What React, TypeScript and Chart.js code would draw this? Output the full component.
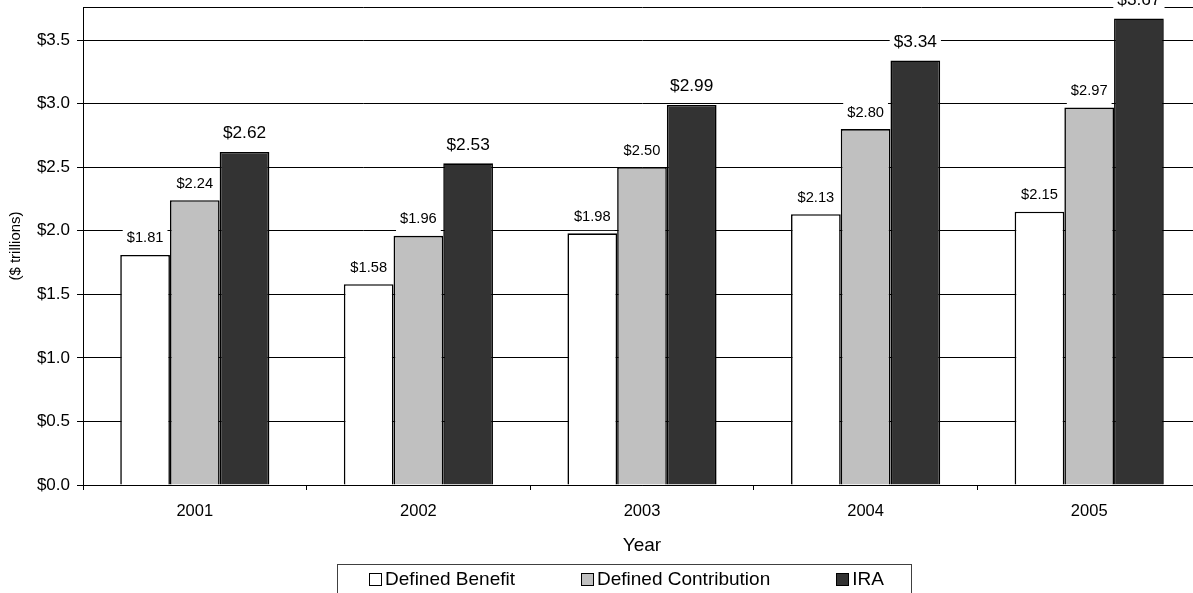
import React, { useEffect, useRef } from 'react';
import { Chart, registerables } from 'chart.js';

Chart.register(...registerables);

const years = ['2001', '2002', '2003', '2004', '2005'];
const definedBenefit = [1.81, 1.58, 1.98, 2.13, 2.15];
const definedContribution = [2.24, 1.96, 2.5, 2.8, 2.97];
const ira = [2.62, 2.53, 2.99, 3.34, 3.67];
const seriesNames = ['Defined Benefit', 'Defined Contribution', 'IRA'];
const seriesColors = ['#ffffff', '#c0c0c0', '#333333'];
const yTickValues = [0, 0.5, 1, 1.5, 2, 2.5, 3, 3.5, 3.76];
const yMax = 3.76;
const yTitle = '($ trillions)';
const xTitle = 'Year';

const FONT = '"Liberation Sans", Arial, Helvetica, sans-serif';
const labelSizes = [14.7, 14.7, 17.3];
const labelOffsets = [16.5, 16.5, 18.5];

const valueLabelPlugin = {
  id: 'valueLabels',
  afterDatasetsDraw(chart: any) {
    const ctx = chart.ctx;
    ctx.save();
    chart.data.datasets.forEach((ds: any, i: number) => {
      const meta = chart.getDatasetMeta(i);
      const fs = labelSizes[i];
      ctx.font = `${fs}px ${FONT}`;
      meta.data.forEach((el: any, j: number) => {
        const text = '$' + Number(ds.data[j]).toFixed(2);
        const w = ctx.measureText(text).width;
        const cy = el.y - labelOffsets[i];
        ctx.fillStyle = '#ffffff';
        ctx.fillRect(el.x - w / 2 - 4, cy - fs * 0.5 - 3, w + 8, fs + 9);
        ctx.fillStyle = '#000000';
        ctx.textAlign = 'center';
        ctx.textBaseline = 'middle';
        ctx.fillText(text, el.x, cy);
      });
    });
    ctx.restore();
  },
};

export default function App() {
  const ref = useRef<HTMLCanvasElement | null>(null);

  useEffect(() => {
    if (!ref.current) return;
    const chart = new Chart(ref.current, {
      type: 'bar',
      data: {
        labels: years,
        datasets: [definedBenefit, definedContribution, ira].map((d, i) => ({
          label: seriesNames[i],
          data: d,
          backgroundColor: seriesColors[i],
          borderColor: '#000000',
          borderWidth: 1.6,
          categoryPercentage: 0.667,
          barPercentage: 1.0,
        })),
      },
      options: {
        responsive: false,
        animation: false,
        devicePixelRatio: 1,
        layout: { padding: { top: 7, left: 0, right: 1, bottom: 0 } },
        plugins: {
          legend: { display: false },
          tooltip: { enabled: false },
        },
        scales: {
          x: {
            grid: {
              offset: true,
              drawOnChartArea: false,
              drawTicks: true,
              tickLength: 5,
              color: '#000000',
            },
            border: { color: '#000000', width: 1 },
            ticks: {
              color: '#000000',
              font: { family: FONT, size: 16.5 },
              padding: 12,
            },
            title: {
              display: true,
              text: xTitle,
              color: '#000000',
              font: { family: FONT, size: 19 },
              padding: { top: 0, bottom: 36 },
            },
            afterFit(scale: any) {
              scale.height = 108;
              scale.paddingLeft = 0;
              scale.paddingRight = 0;
            },
          },
          y: {
            min: 0,
            max: yMax,
            afterBuildTicks(scale: any) {
              scale.ticks = yTickValues.map((v) => ({ value: v }));
            },
            grid: {
              color: '#000000',
              lineWidth: 1,
              tickLength: 6,
              tickColor: (c: any) => (c.tick && c.tick.value > 3.5 ? 'rgba(0,0,0,0)' : '#000000'),
            },
            border: { color: '#000000', width: 1 },
            ticks: {
              color: '#000000',
              font: { family: FONT, size: 17 },
              padding: 7,
              callback: (v: any) => (Number(v) > 3.5 ? '' : '$' + Number(v).toFixed(1)),
            },
            title: {
              display: true,
              text: yTitle,
              color: '#000000',
              font: { family: FONT, size: 15 },
              padding: { top: 7, bottom: 0 },
            },
            afterFit(scale: any) {
              scale.width = 83;
              scale.paddingTop = 0;
              scale.paddingBottom = 0;
            },
          },
        },
      },
      plugins: [valueLabelPlugin],
    } as any);
    return () => chart.destroy();
  }, []);

  return (
    <div
      style={{
        position: 'fixed',
        left: 0,
        top: 0,
        width: 1193,
        height: 593,
        overflow: 'hidden',
        background: '#ffffff',
        fontFamily: FONT,
      }}
    >
      <canvas ref={ref} width={1202} height={593} style={{ position: 'absolute', left: 0, top: 0 }} />
      <div
        style={{
          position: 'absolute',
          left: 337,
          top: 564,
          width: 575,
          height: 44,
          boxSizing: 'border-box',
          border: '1px solid #404040',
          display: 'flex',
          justifyContent: 'center',
          alignItems: 'center',
          gap: 66,
          paddingLeft: 4,
          fontSize: 19,
          color: '#000',
        }}
      >
        {seriesNames.map((n, i) => (
          <div
            key={n}
            style={{ display: 'flex', alignItems: 'center', height: 30, marginTop: -14, whiteSpace: 'nowrap' }}
          >
            <span
              style={{
                display: 'inline-block',
                width: 11,
                height: 11,
                border: '1px solid #000',
                background: seriesColors[i],
                marginRight: 3,
              }}
            />
            {n}
          </div>
        ))}
      </div>
    </div>
  );
}
